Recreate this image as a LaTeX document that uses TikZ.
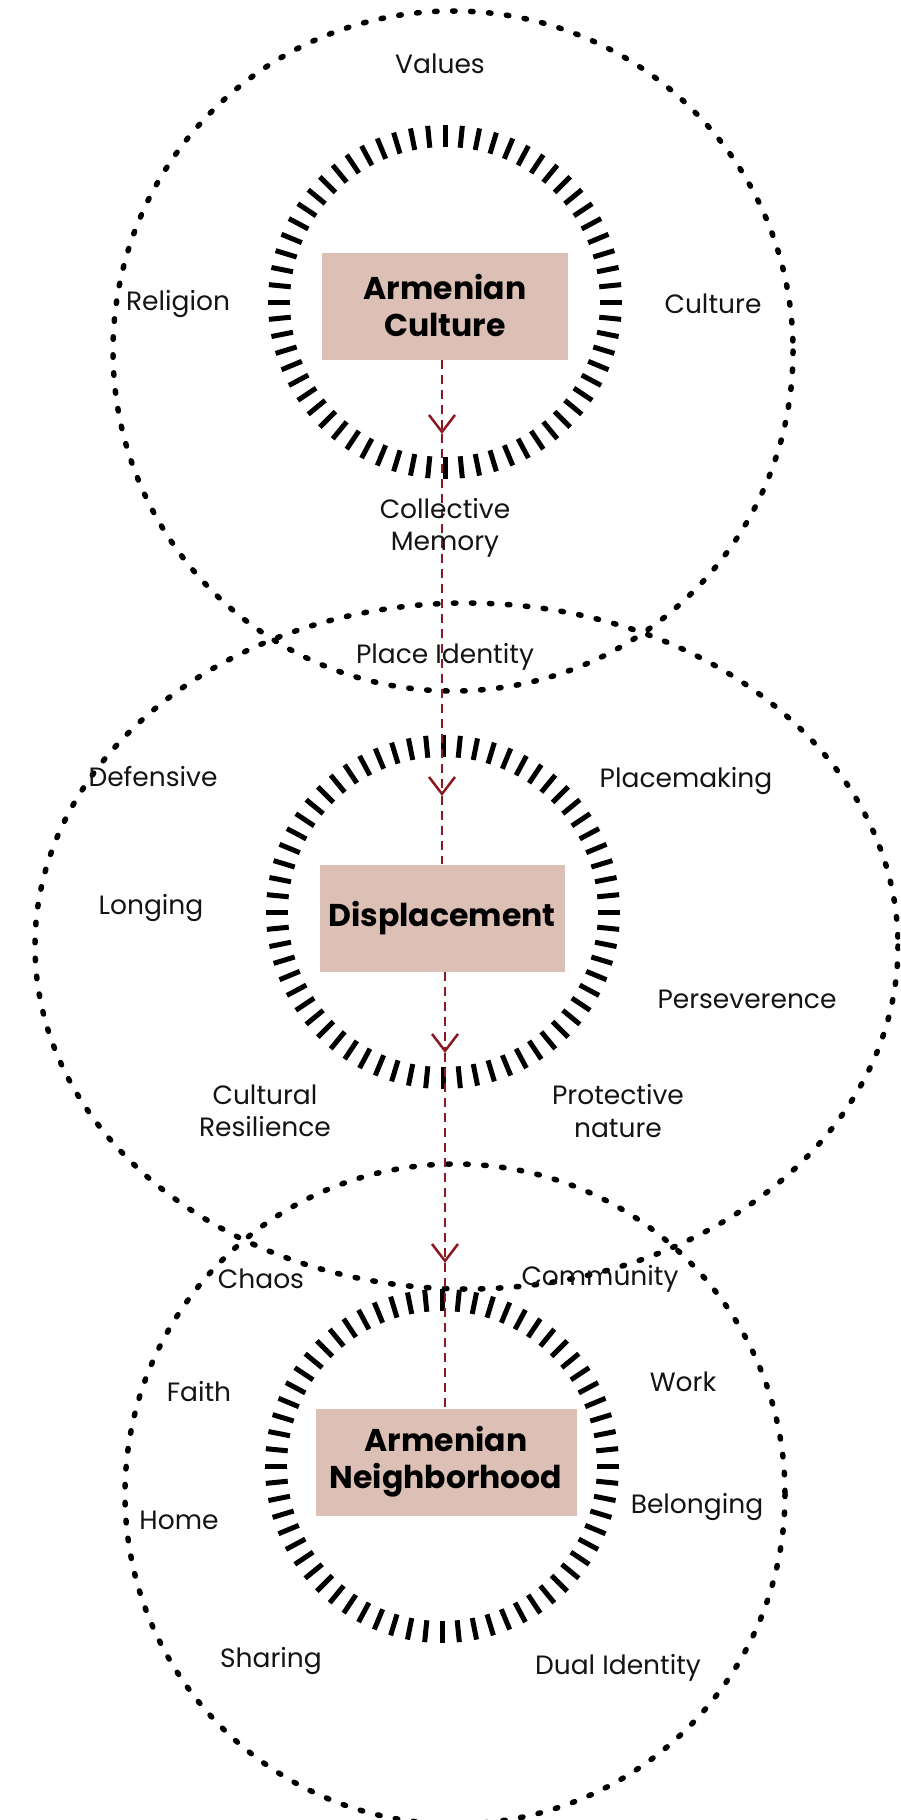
\documentclass[tikz,border=0pt]{standalone}
\usepackage{fontspec}
\setmainfont{Poppins}
\usetikzlibrary{arrows.meta}
\definecolor{boxfill}{RGB}{220,192,181}
\definecolor{flow}{RGB}{138,26,34}
\definecolor{ink}{RGB}{20,20,20}

\begin{document}
\begin{tikzpicture}[x=1pt,y=-1pt,
  zone/.style={draw=black, line width=5.5pt, line cap=round, dash pattern=on 2.5pt off 15.5pt},
  tickmark/.style={draw=black, line width=5pt},
  core/.style={fill=boxfill, draw=none, minimum width=246pt, minimum height=107pt, inner sep=0pt,
    font=\fontsize{31.5}{37}\selectfont\bfseries, align=center, text=black},
  lbl/.style={font=\fontsize{26.5}{32.5}\selectfont, align=center, text=ink},
  flowline/.style={draw=flow, line width=2.3pt, dash pattern=on 9pt off 6pt},
  flowtip/.style={-{Straight Barb[length=17pt,width=26pt,line width=2.5pt]}}
]
\useasboundingbox (0,0) rectangle (900,1820);
\clip (0,0) rectangle (900,1820);
\fill[white] (0,0) rectangle (900,1820);

% outer dotted zones
\draw[zone] (453,351) circle [radius=340];
\draw[zone] (466.5,946) ellipse [x radius=431.5, y radius=343];
\draw[zone] (455,1494) circle [radius=330];

% tick rings round each core
\coordinate (ringA) at (445,302);
\coordinate (ringB) at (443,912);
\coordinate (ringC) at (442,1466);
\foreach \r in {ringA,ringB,ringC}{
  \foreach \i in {0,...,63}{
    \draw[tickmark] (\r) ++({\i*5.625}:155) -- ++({\i*5.625}:22);
  }
}

% cores
\node[core] (culture) at (445,306) {Armenian\\Culture};
\node[core, minimum width=245pt] (displacement) at (442,918) {Displacement};
\node[core, minimum width=261pt] (neighborhood) at (446,1462) {Armenian\\Neighborhood};

% flow between cores
\coordinate (t1) at (442,434);
\coordinate (t2) at (442,796);
\coordinate (t3) at (445,1053);
\coordinate (t4) at (445,1263);
\draw[flowline, flowtip] (culture.south -| t1) -- (t1);
\draw[flowline, flowtip] (t1) -- (t2);
\draw[flowline] (t2) -- (t2 |- displacement.north);
\draw[flowline, flowtip] (displacement.south -| t3) -- (t3);
\draw[flowline, flowtip] (t3) -- (t4);
\draw[flowline] (t4) -- (t4 |- neighborhood.north);

% labels
\node[lbl] (values) at (440,64) {Values};
\node[lbl] (religion) at (178,304) {Religion};
\node[lbl] (culturelbl) at (713,304) {Culture};
\node[lbl] (memory) at (445,528) {Collective\\Memory};
\node[lbl] (place) at (445,657) {Place Identity};
\node[lbl] (defensive) at (153,776) {Defensive};
\node[lbl] (placemaking) at (686,781) {Placemaking};
\node[lbl] (longing) at (151,908) {Longing};
\node[lbl] (persev) at (747,999) {Perseverence};
\node[lbl] (resilience) at (265,1111) {Cultural\\Resilience};
\node[lbl] (protective) at (618,1111) {Protective\\nature};
\node[lbl] (chaos) at (261,1279) {Chaos};
\node[lbl] (community) at (600,1279) {Community};
\node[lbl] (faith) at (199,1392) {Faith};
\node[lbl] (work) at (683,1382) {Work};
\node[lbl] (home) at (179,1520) {Home};
\node[lbl] (belonging) at (697,1507) {Belonging};
\node[lbl] (sharing) at (271,1661) {Sharing};
\node[lbl] (dual) at (618,1668) {Dual Identity};
\end{tikzpicture}
\end{document}
